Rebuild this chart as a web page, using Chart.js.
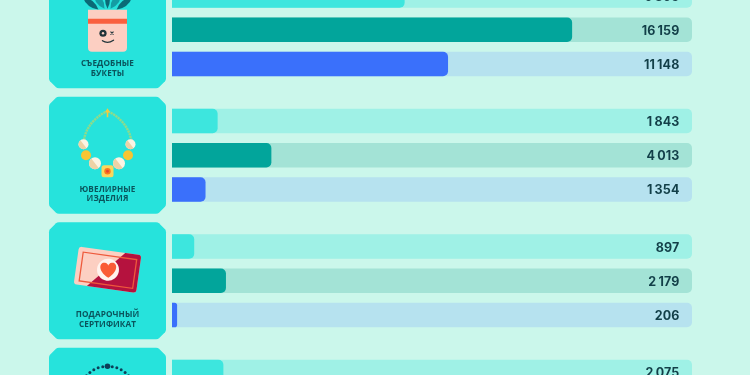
<!DOCTYPE html>
<html lang="ru">
<head>
<meta charset="utf-8">
<style>
html,body{margin:0;padding:0;width:750px;height:375px;overflow:hidden;background:#CBF7EB}
#wrap{position:absolute;left:0;top:0;width:750px;height:375px;overflow:hidden}
#c{position:absolute;left:0;top:-33px;filter:blur(0.45px)}
</style>
<script src="https://cdn.jsdelivr.net/npm/chart.js@4"></script>
</head>
<body>
<div id="wrap"><canvas id="c" width="750" height="502"></canvas></div>
<script>
const categories = [
  ["СЪЕДОБНЫЕ", "БУКЕТЫ"],
  ["ЮВЕЛИРНЫЕ", "ИЗДЕЛИЯ"],
  ["ПОДАРОЧНЫЙ", "СЕРТИФИКАТ"],
  []
];
const seriesA = [9395, 1843, 897, 2075];
const seriesB = [16159, 4013, 2179, null];
const seriesC = [11148, 1354, 206, null];
const axisMax = 21000;
const trackValues = [axisMax, axisMax, axisMax, axisMax];

const colorsBar = ["#3DE6DE", "#02A59B", "#3A70FB"];
const colorsTrack = ["#9FF1E6", "#A3E3D6", "#B6E2EF"];

function panelPath(ctx, x0, y0, x1, y1, c) {
  ctx.beginPath();
  ctx.moveTo(x0 + c, y0);
  ctx.lineTo(x1 - c, y0);
  ctx.quadraticCurveTo(x1 - c + 2, y0, x1 - c + 3, y0 + 1);
  ctx.lineTo(x1 - 1, y0 + c - 3);
  ctx.quadraticCurveTo(x1, y0 + c - 2, x1, y0 + c);
  ctx.lineTo(x1, y1 - c);
  ctx.quadraticCurveTo(x1, y1 - c + 2, x1 - 1, y1 - c + 3);
  ctx.lineTo(x1 - c + 3, y1 - 1);
  ctx.quadraticCurveTo(x1 - c + 2, y1, x1 - c, y1);
  ctx.lineTo(x0 + c, y1);
  ctx.quadraticCurveTo(x0 + c - 2, y1, x0 + c - 3, y1 - 1);
  ctx.lineTo(x0 + 1, y1 - c + 3);
  ctx.quadraticCurveTo(x0, y1 - c + 2, x0, y1 - c);
  ctx.lineTo(x0, y0 + c);
  ctx.quadraticCurveTo(x0, y0 + c - 2, x0 + 1, y0 + c - 3);
  ctx.lineTo(x0 + c - 3, y0 + 1);
  ctx.quadraticCurveTo(x0 + c - 2, y0, x0 + c, y0);
  ctx.closePath();
}

function leaf(ctx, x0, y0, x1, y1, bulge, fill) {
  const mx = (x0 + x1) / 2, my = (y0 + y1) / 2;
  const dx = y1 - y0, dy = x0 - x1, len = Math.hypot(dx, dy);
  const nx = dx / len * bulge, ny = dy / len * bulge;
  ctx.fillStyle = fill;
  ctx.beginPath();
  ctx.moveTo(x0, y0);
  ctx.quadraticCurveTo(mx + nx, my + ny, x1, y1);
  ctx.quadraticCurveTo(mx - nx, my - ny, x0, y0);
  ctx.fill();
}

function iconPot(ctx, cx, cy) {
  ctx.save();
  ctx.translate(cx, cy);
  const dark = "#0B6A76", mid = "#149CA3";
  leaf(ctx, -9, -20, -25, -33, 6, dark);
  leaf(ctx, -3, -21, -14, -38, 7, mid);
  leaf(ctx, 9, -20, 25, -33, 6, dark);
  leaf(ctx, 3, -21, 14, -38, 7, mid);
  leaf(ctx, 0, -21, 0, -40, 5, dark);
  ctx.fillStyle = "#FCCFC2";
  ctx.beginPath();
  ctx.roundRect(-19.5, -20, 39, 42, [0, 0, 4, 4]);
  ctx.fill();
  ctx.fillStyle = "#F9603F";
  ctx.fillRect(-19.5, -11, 39, 5);
  ctx.fillStyle = "#21343A";
  ctx.beginPath(); ctx.arc(-4.5, 3.5, 3.6, 0, 7); ctx.fill();
  ctx.fillStyle = "#FCCFC2";
  ctx.beginPath(); ctx.arc(-4.5, 3.5, 1.2, 0, 7); ctx.fill();
  ctx.strokeStyle = "#21343A";
  ctx.lineWidth = 1.2;
  ctx.beginPath();
  ctx.moveTo(3, 1.8); ctx.lineTo(6, 4.8);
  ctx.moveTo(6, 1.8); ctx.lineTo(3, 4.8);
  ctx.stroke();
  ctx.lineWidth = 1.4;
  ctx.lineCap = "round";
  ctx.beginPath();
  ctx.moveTo(-5, 11);
  ctx.quadraticCurveTo(0, 14.5, 6, 10.5);
  ctx.stroke();
  ctx.restore();
}

function iconNecklace(ctx, cx, cy) {
  ctx.save();
  ctx.translate(cx, cy);
  ctx.strokeStyle = "#8FDB8A";
  ctx.lineWidth = 2.4;
  ctx.setLineDash([2.2, 0.6]);
  ctx.beginPath();
  ctx.moveTo(-24, -10);
  ctx.bezierCurveTo(-24, -28, -10, -40, 0, -44);
  ctx.bezierCurveTo(10, -40, 24, -28, 24, -10);
  ctx.stroke();
  ctx.setLineDash([]);
  ctx.fillStyle = "#F5C93C";
  ctx.beginPath();
  ctx.moveTo(0, -47); ctx.lineTo(2.5, -43); ctx.lineTo(0.8, -43); ctx.lineTo(0.8, -38);
  ctx.lineTo(-0.8, -38); ctx.lineTo(-0.8, -43); ctx.lineTo(-2.5, -43); ctx.closePath();
  ctx.fill();
  const pearl = (x, y, r) => {
    ctx.fillStyle = "#FBF4E4";
    ctx.beginPath(); ctx.arc(x, y, r, 0, 7); ctx.fill();
    ctx.fillStyle = "#EED2A6";
    ctx.beginPath(); ctx.arc(x, y, r, 0.9, 0.9 + Math.PI); ctx.fill();
  };
  const gold = (x, y, r) => {
    ctx.fillStyle = "#F7C533";
    ctx.beginPath(); ctx.arc(x, y, r, 0, 7); ctx.fill();
  };
  pearl(-24, -11, 5); pearl(23, -11, 5);
  gold(-21.5, 0, 5); gold(20.5, 0, 5);
  pearl(-12.5, 8, 6); pearl(11.5, 8, 6);
  ctx.fillStyle = "#FBD75B";
  ctx.beginPath(); ctx.roundRect(-6, 10, 12, 12, 2.5); ctx.fill();
  ctx.fillStyle = "#F97A1E";
  ctx.beginPath(); ctx.arc(0, 16, 3.2, 0, 7); ctx.fill();
  ctx.fillStyle = "#E8432E";
  ctx.beginPath(); ctx.arc(0, 16, 1.4, 0, 7); ctx.fill();
  ctx.restore();
}

function iconCard(ctx, cx, cy) {
  ctx.save();
  ctx.translate(cx + 0.5, cy - 11);
  ctx.rotate(8 * Math.PI / 180);
  ctx.beginPath();
  ctx.roundRect(-32, -19, 63, 38, 3);
  ctx.save();
  ctx.fillStyle = "#FCCFC2";
  ctx.fill();
  ctx.clip();
  ctx.fillStyle = "#B5123E";
  ctx.beginPath();
  ctx.moveTo(19, -24); ctx.lineTo(36, -24); ctx.lineTo(36, 24); ctx.lineTo(-23, 24);
  ctx.closePath();
  ctx.fill();
  ctx.restore();
  ctx.strokeStyle = "#EE5A3C";
  ctx.lineWidth = 1.3;
  ctx.strokeRect(-27, -14, 54, 29);
  ctx.fillStyle = "#FFF3EE";
  ctx.beginPath(); ctx.arc(0, 0, 11, 0, 7); ctx.fill();
  ctx.restore();
  ctx.save();
  ctx.translate(cx + 0.8, cy - 11);
  ctx.fillStyle = "#FA5C36";
  ctx.beginPath();
  ctx.moveTo(0, 8);
  ctx.bezierCurveTo(-12, 0, -8, -8, -3.5, -7);
  ctx.bezierCurveTo(-1.5, -7, 0, -5, 0, -4);
  ctx.bezierCurveTo(0, -5, 1.5, -7, 3.5, -7);
  ctx.bezierCurveTo(8, -8, 12, 0, 0, 8);
  ctx.fill();
  ctx.restore();
}

function iconBeads(ctx, cx, cy) {
  ctx.save();
  ctx.translate(cx, cy);
  ctx.fillStyle = "#0C3F58";
  const n = 15;
  for (let i = 0; i < n; i++) {
    const a = -Math.PI / 2 + (i - (n - 1) / 2) * 0.17;
    const x = 28 * Math.cos(a), y = -12 + 28 * Math.sin(a);
    const big = i === (n - 1) / 2;
    ctx.beginPath();
    ctx.arc(x, y, big ? 2.8 : 1.5, 0, 7);
    ctx.fill();
  }
  ctx.restore();
}

const icons = [iconPot, iconNecklace, iconCard, iconBeads];

const panelsPlugin = {
  id: "panels",
  beforeDatasetsDraw(chart) {
    const { ctx, scales: { y } } = chart;
    ctx.save();
    categories.forEach((lines, i) => {
      const cy = y.getPixelForValue(i);
      ctx.fillStyle = "#26E3DC";
      panelPath(ctx, 49, cy - 58.5, 166, cy + 58.5, 10);
      ctx.fill();
      icons[i](ctx, 107.5, cy);
      ctx.fillStyle = "#0A555D";
      ctx.font = "bold 8.2px 'Open Sans', sans-serif";
      ctx.letterSpacing = "0.1px";
      ctx.textAlign = "center";
      ctx.textBaseline = "middle";
      lines.forEach((t, k) => ctx.fillText(t, 107.5, cy + 34.2 + k * 9.7));
    });
    ctx.restore();
  },
  afterDatasetsDraw(chart) {
    const { ctx } = chart;
    ctx.save();
    ctx.fillStyle = "#123F48";
    ctx.font = "bold 12.5px Inter, sans-serif";
    ctx.letterSpacing = "0.15px";
    ctx.textAlign = "right";
    ctx.textBaseline = "middle";
    [0, 1, 2].forEach(d => {
      chart.getDatasetMeta(d).data.forEach((el, i) => {
        const v = chart.data.datasets[d].data[i];
        if (v == null) return;
        const t = String(v).replace(/\B(?=(\d{3})+$)/g, "\u2009");
        ctx.fillText(t, 679.5, el.y + 1.2);
      });
    });
    ctx.restore();
  }
};

const barOpts = { categoryPercentage: 0.8175, barPercentage: 0.716, borderRadius: 5 };

new Chart(document.getElementById("c"), {
  type: "bar",
  data: {
    labels: categories,
    datasets: [
      { data: seriesA, backgroundColor: colorsBar[0], stack: "a", order: 1, ...barOpts },
      { data: seriesB, backgroundColor: colorsBar[1], stack: "b", order: 1, ...barOpts },
      { data: seriesC, backgroundColor: colorsBar[2], stack: "c", order: 1, ...barOpts },
      { data: trackValues, backgroundColor: colorsTrack[0], stack: "a", order: 2, ...barOpts },
      { data: trackValues, backgroundColor: colorsTrack[1], stack: "b", order: 2, ...barOpts },
      { data: trackValues, backgroundColor: colorsTrack[2], stack: "c", order: 2, ...barOpts }
    ]
  },
  options: {
    indexAxis: "y",
    responsive: false,
    animation: false,
    events: [],
    layout: { padding: { left: 172, right: 58, top: 0, bottom: 0 } },
    plugins: { legend: { display: false }, tooltip: { enabled: false } },
    scales: {
      x: { min: 0, max: axisMax, display: false, stacked: false },
      y: { type: "category", display: false, offset: true }
    }
  },
  plugins: [panelsPlugin]
});
</script>
</body>
</html>
